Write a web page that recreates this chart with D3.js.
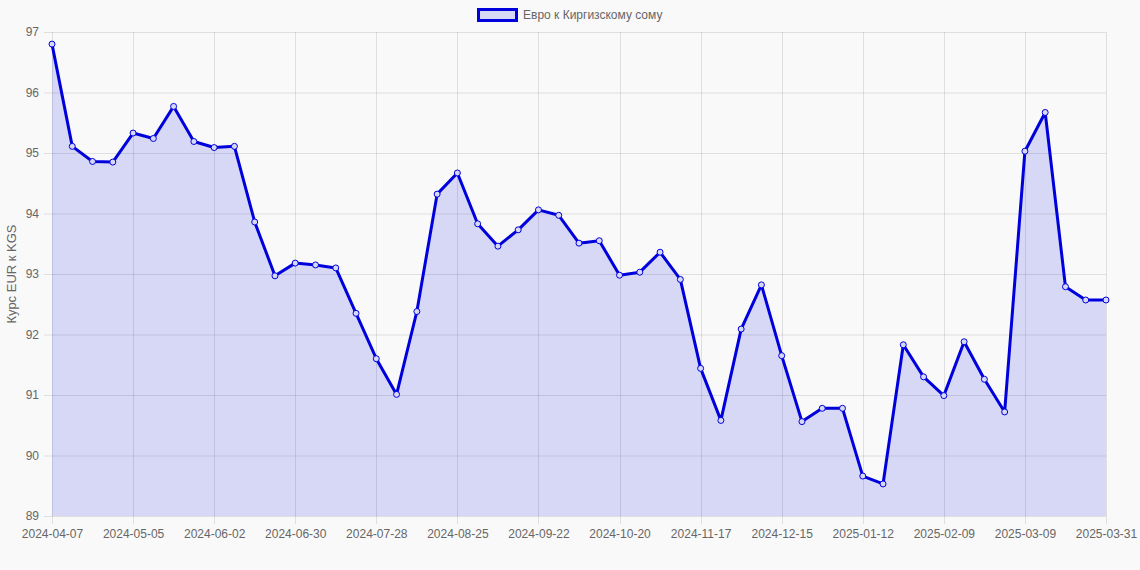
<!DOCTYPE html>
<html lang="ru">
<head>
<meta charset="utf-8">
<script type="text/javascript" src="https://cdnjs.cloudflare.com/ajax/libs/d3/7.8.5/d3.min.js"></script>
<style>
    body { margin: 0; background: #f9f9f9; }
    text { font-family: "Liberation Sans", Arial, sans-serif; }
</style>
</head>
<body>
<div id="container"></div>
<script type="text/javascript">
    var w = 1140;
    var h = 570;

    // weekly dates, last point is 2025-03-31
    var dates = [
        "2024-04-07", "2024-04-14", "2024-04-21", "2024-04-28", "2024-05-05", "2024-05-12",
        "2024-05-19", "2024-05-26", "2024-06-02", "2024-06-09", "2024-06-16", "2024-06-23",
        "2024-06-30", "2024-07-07", "2024-07-14", "2024-07-21", "2024-07-28", "2024-08-04",
        "2024-08-11", "2024-08-18", "2024-08-25", "2024-09-01", "2024-09-08", "2024-09-15",
        "2024-09-22", "2024-09-29", "2024-10-06", "2024-10-13", "2024-10-20", "2024-10-27",
        "2024-11-03", "2024-11-10", "2024-11-17", "2024-11-24", "2024-12-01", "2024-12-08",
        "2024-12-15", "2024-12-22", "2024-12-29", "2025-01-05", "2025-01-12", "2025-01-19",
        "2025-01-26", "2025-02-02", "2025-02-09", "2025-02-16", "2025-02-23", "2025-03-02",
        "2025-03-09", "2025-03-16", "2025-03-23", "2025-03-30", "2025-03-31"
    ];

    var rates = [
        96.80, 95.11, 94.86, 94.85, 95.33, 95.24, 95.77, 95.19, 95.09, 95.11,
        93.86, 92.97, 93.18, 93.15, 93.10, 92.35, 91.60, 91.01, 92.38, 94.32,
        94.67, 93.83, 93.46, 93.73, 94.06, 93.97, 93.51, 93.55, 92.98, 93.03,
        93.36, 92.91, 91.44, 90.58, 92.09, 92.82, 91.65, 90.56, 90.78, 90.78,
        89.66, 89.53, 91.83, 91.30, 90.99, 91.88, 91.26, 90.72, 95.03, 95.67,
        92.79, 92.57, 92.57
    ];

    var yTicks = [89, 90, 91, 92, 93, 94, 95, 96, 97];
    var seriesName = "Евро к Киргизскому сому";
    var yTitle = "Курс EUR к KGS";

    var lineColor = "#0000dc";
    var fillColor = "#d6d8f6";
    var gridColor = "rgba(0,0,0,0.1)";
    var textColor = "#666";

    var margin = { left: 52, right: 34, top: 32, bottom: 54 };

    var svg = d3.select("#container")
                .append("svg")
                .attr("width", w)
                .attr("height", h)
                .style("background", "#f9f9f9");

    var xscale = d3.scalePoint()
                    .domain(dates)
                    .range([margin.left, w - margin.right]);

    var yscale = d3.scaleLinear()
                    .domain([89, 97])
                    .range([h - margin.bottom, margin.top]);

    // area under line
    var area = d3.area()
                .x(function(d, i) { return xscale(dates[i]); })
                .y0(yscale(89))
                .y1(function(d) { return yscale(d); });

    svg.append("path")
        .datum(rates)
        .attr("d", area)
        .attr("fill", fillColor);

    // x labels: every 4th week plus last
    var xTickDates = dates.filter(function(d, i) {
        return i % 4 === 0 || i === dates.length - 1;
    });

    // grid
    svg.append("g")
        .selectAll("line")
        .data(yTicks)
        .enter()
        .append("line")
        .attr("x1", margin.left - 8)
        .attr("x2", w - margin.right)
        .attr("y1", function(d) { return yscale(d) + 0.5; })
        .attr("y2", function(d) { return yscale(d) + 0.5; })
        .attr("stroke", gridColor);

    svg.append("g")
        .selectAll("line")
        .data(xTickDates)
        .enter()
        .append("line")
        .attr("x1", function(d) { return Math.round(xscale(d)) + 0.5; })
        .attr("x2", function(d) { return Math.round(xscale(d)) + 0.5; })
        .attr("y1", margin.top)
        .attr("y2", h - margin.bottom + 8)
        .attr("stroke", gridColor);

    // axes labels via d3 axes
    var yAxis = svg.append("g")
        .attr("transform", "translate(" + (margin.left - 10) + ",0)")
        .call(d3.axisLeft(yscale).tickValues(yTicks).tickSize(0).tickFormat(d3.format("d")));
    yAxis.select(".domain").remove();
    yAxis.selectAll("text")
        .attr("fill", textColor)
        .attr("font-size", 12)
        .attr("font-family", "Liberation Sans, Arial, sans-serif");

    var xAxis = svg.append("g")
        .attr("transform", "translate(0," + (h - margin.bottom + 8) + ")")
        .call(d3.axisBottom(xscale).tickValues(xTickDates).tickSize(0));
    xAxis.select(".domain").remove();
    xAxis.selectAll("text")
        .attr("fill", textColor)
        .attr("font-size", 12)
        .attr("dy", "0.9em")
        .attr("font-family", "Liberation Sans, Arial, sans-serif");

    // y title
    svg.append("text")
        .attr("transform", "translate(16," + ((margin.top + h - margin.bottom) / 2) + ") rotate(-90)")
        .attr("text-anchor", "middle")
        .attr("font-size", 13)
        .attr("fill", textColor)
        .text(yTitle);

    // line
    var line = d3.line()
                .x(function(d, i) { return xscale(dates[i]); })
                .y(function(d) { return yscale(d); });

    svg.append("path")
        .datum(rates)
        .attr("d", line)
        .attr("fill", "none")
        .attr("stroke", lineColor)
        .attr("stroke-width", 3)
        .attr("stroke-linejoin", "round");

    svg.append("g")
        .selectAll("circle")
        .data(rates)
        .enter()
        .append("circle")
        .attr("cx", function(d, i) { return xscale(dates[i]); })
        .attr("cy", function(d) { return yscale(d); })
        .attr("r", 3)
        .attr("fill", fillColor)
        .attr("stroke", lineColor)
        .attr("stroke-width", 1);

    // legend
    var legend = svg.append("g");
    legend.append("rect")
        .attr("x", 478.5)
        .attr("y", 9.5)
        .attr("width", 38)
        .attr("height", 11)
        .attr("fill", fillColor)
        .attr("stroke", lineColor)
        .attr("stroke-width", 3);
    legend.append("text")
        .attr("x", 523)
        .attr("y", 15)
        .attr("dy", "0.35em")
        .attr("font-size", 12)
        .attr("fill", textColor)
        .text(seriesName);
</script>
</body>
</html>
